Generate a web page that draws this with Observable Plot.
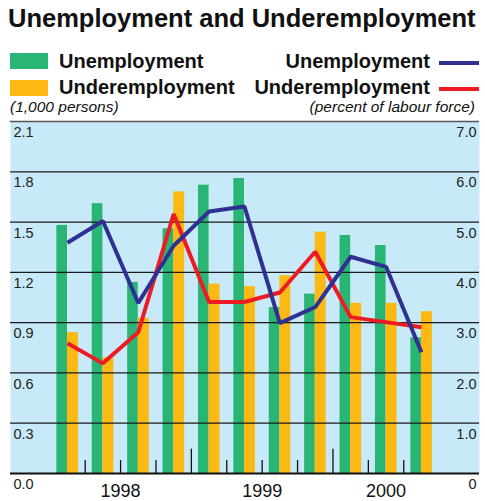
<!DOCTYPE html>
<html>
<head>
<meta charset="utf-8">
<script src="https://cdn.jsdelivr.net/npm/d3@7"></script>
<script src="https://cdn.jsdelivr.net/npm/@observablehq/plot@0.6"></script>
<style>
  html, body { margin: 0; padding: 0; background: white; }
  body { width: 485px; height: 501px; overflow: hidden; font-family: "Liberation Sans", Arial, sans-serif; color: #111; }
  #wrap { position: relative; width: 485px; height: 501px; }
  .t { position: absolute; white-space: nowrap; line-height: 1; }
  .title { font-weight: bold; font-size: 25.5px; left: 8px; top: 6px; }
  .leg { font-weight: bold; font-size: 20px; }
  .unit { font-style: italic; font-size: 15.5px; }
  .sw { position: absolute; }
  #chart { position: absolute; left: 0; top: 119px; }
</style>
</head>
<body>
<div id="wrap">
  <div class="t title">Unemployment and Underemployment</div>
  <div class="sw" style="left:10px;top:53px;width:38px;height:16px;background:#29b573"></div>
  <div class="sw" style="left:10px;top:80px;width:38px;height:16px;background:#fcb913"></div>
  <div class="t leg" style="left:59px;top:51px">Unemployment</div>
  <div class="t leg" style="left:59px;top:77px">Underemployment</div>
  <div class="t leg" style="right:55px;top:51px">Unemployment</div>
  <div class="t leg" style="right:55px;top:77px">Underemployment</div>
  <div class="sw" style="left:439px;top:61px;width:40px;height:3.5px;background:#2e3192"></div>
  <div class="sw" style="left:439px;top:87px;width:40px;height:3.5px;background:#ed1c24"></div>
  <div class="t unit" style="left:10px;top:99px">(1,000 persons)</div>
  <div class="t unit" style="right:10px;top:99px">(percent of labour force)</div>
  <div id="chart"></div>
</div>
<script>
// Quarters shown (bar pairs / line points)
const quarters = ["Mar 1998","Jun 1998","Sep 1998","Dec 1998","Mar 1999","Jun 1999","Sep 1999","Dec 1999","Mar 2000","Jun 2000","Sep 2000"];
// Bars, left axis (million persons; axis shows "1,000 persons" labels as on original)
const unempPersons = [1.48, 1.61, 1.14, 1.46, 1.72, 1.76, 0.99, 1.07, 1.42, 1.36, 0.81];
const underPersons = [0.84, 0.69, 0.925, 1.68, 1.13, 1.115, 1.18, 1.44, 1.015, 1.015, 0.965];
// Lines, right axis (percent of labour force)
const unempRate = [4.59, 5.02, 3.39, 4.53, 5.21, 5.31, 2.99, 3.31, 4.31, 4.11, 2.41];
const underRate = [2.59, 2.19, 2.81, 5.16, 3.41, 3.41, 3.60, 4.41, 3.11, 3.01, 2.91];
// Axis tick labels
const leftTicks = ["0.0","0.3","0.6","0.9","1.2","1.5","1.8","2.1"];
const rightTicks = ["0","1.0","2.0","3.0","4.0","5.0","6.0","7.0"];
const leftMax = 2.1, rightMax = 7.0;
const ratio = leftMax / rightMax;

const rows = quarters.map((q, i) => ({
  q, i, year: q.split(" ")[1],
  up: unempPersons[i], dp: underPersons[i],
  ur: unempRate[i] * ratio, dr: underRate[i] * ratio
}));

// quarter boundaries (interior), year boundaries tall
const bounds = rows.slice(1).map(r => ({x: r.i - 0.5, yearStart: r.year !== rows[r.i - 1].year}));
// year labels centred under their quarters
const yearLabels = Array.from(d3.group(rows, r => r.year), ([y, rs]) => ({y, x: d3.mean(rs, r => r.i)}));

const leftTickData = leftTicks.map(t => ({t, v: +t}));
const rightTickData = rightTicks.map(t => ({t, v: +t * ratio}));
const grid = leftTickData.filter(d => d.v > 0 && d.v < leftMax);

const plot = Plot.plot({
  width: 485,
  height: 382,
  marginTop: 2,
  marginBottom: 28,
  marginLeft: 10,
  marginRight: 6,
  x: {domain: [-1.61, 11.64], axis: null},
  y: {domain: [0, leftMax], axis: null},
  style: {fontFamily: "'Liberation Sans', Arial, sans-serif", fontSize: "14px", background: "white", color: "#111"},
  marks: [
    Plot.frame({fill: "#c7e9f8", stroke: "none"}),
    Plot.rectY(rows, {x1: d => d.i - 0.3, x2: d => d.i, y: "up", fill: "#29b573"}),
    Plot.rectY(rows, {x1: d => d.i, x2: d => d.i + 0.31, y: "dp", fill: "#fcb913"}),
    Plot.ruleY(grid, {y: "v", stroke: "#1a1a1a", strokeWidth: 1.2}),
    Plot.ruleY([leftMax], {stroke: "#555", strokeWidth: 1.5}),
    Plot.ruleX(bounds, {x: "x", y1: 0, y2: d => d.yearStart ? 0.145 : 0.078, stroke: "#111", strokeWidth: 1.3}),
    Plot.ruleY([0], {stroke: "#111", strokeWidth: 1.8}),
    Plot.line(rows, {x: "i", y: "dr", stroke: "#ed1c24", strokeWidth: 4, strokeLinejoin: "miter", strokeLinecap: "butt"}),
    Plot.line(rows, {x: "i", y: "ur", stroke: "#2e3192", strokeWidth: 4, strokeLinejoin: "miter", strokeLinecap: "butt"}),
    Plot.text(leftTickData, {y: "v", text: "t", frameAnchor: "left", textAnchor: "start", dx: 3, dy: 11, fill: "#222", fontSize: 14.5}),
    Plot.text(rightTickData, {y: "v", text: "t", frameAnchor: "right", textAnchor: "end", dx: -3, dy: 11, fill: "#222", fontSize: 14.5}),
    Plot.text(yearLabels, {x: "x", y: 0, text: "y", dy: 18, fill: "#111", fontSize: 18})
  ]
});
document.getElementById("chart").appendChild(plot);
</script>
</body>
</html>
